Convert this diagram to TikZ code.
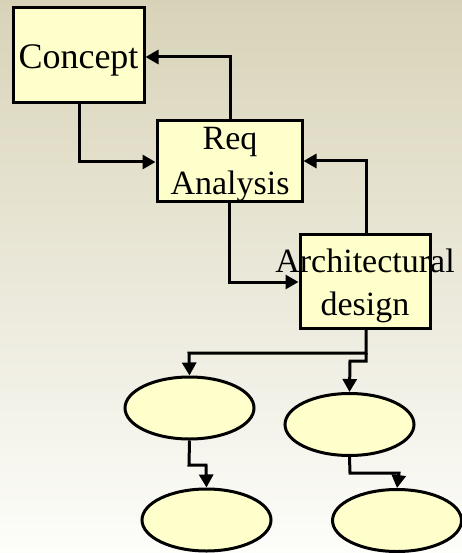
\documentclass[tikz,border=0pt]{standalone}
\usepackage{fontspec}
\setmainfont{Liberation Serif}
\usetikzlibrary{arrows.meta,shapes.geometric}
\definecolor{bgtop}{RGB}{216,211,184}
\definecolor{bgbot}{RGB}{253,253,250}
\definecolor{boxfill}{RGB}{255,255,204}
\tikzset{
  stagebox/.style={draw=black,line width=3pt,fill=boxfill,rectangle,inner sep=0pt},
  taskoval/.style={draw=black,line width=3pt,fill=boxfill,ellipse,inner sep=0pt,
    minimum width=129pt,minimum height=62pt},
  lbl/.style={font=\fontsize{34}{42}\selectfont,align=center,inner sep=0pt},
  flow/.style={draw=black,line width=3pt,-{Triangle[length=13pt,width=14pt]}},
}
\begin{document}
\begin{tikzpicture}[x=1pt,y=-1pt]
\shade[top color=bgtop,bottom color=bgbot] (0,0) rectangle (462,553);
\useasboundingbox (0,0) rectangle (462,553);

% stage boxes
\node[stagebox,minimum width=131pt,minimum height=95pt] (concept) at (78.5,55.5) {};
\node[stagebox,minimum width=145pt,minimum height=80pt] (req) at (229.5,161) {};
\node[stagebox,minimum width=130pt,minimum height=94pt] (arch) at (365,281) {};

% box texts
\node[lbl,font=\fontsize{36}{42}\selectfont,anchor=base] (tconcept) at (78.5,69) {Concept};
\node[lbl,anchor=base] (treq1) at (230,150) {Req};
\node[lbl,anchor=base] (treq2) at (230,194) {Analysis};
\node[lbl,anchor=base] (tarch1) at (365,272) {Architectural};
\node[lbl,anchor=base] (tarch2) at (365,315) {design};

% task ovals
\node[taskoval] (o1) at (189.5,408) {};
\node[taskoval] (o2) at (349.5,424.5) {};
\node[taskoval] (o3) at (206.5,520) {};
\node[taskoval] (o4) at (397,520.5) {};

% corner points of the connectors
\coordinate (c1) at (79,162);
\coordinate (c2) at (229,282);
\coordinate (c3) at (366,353);
\coordinate (c4) at (189,353);
\coordinate (c5) at (366,361);
\coordinate (c6) at (350,361);
\coordinate (c7) at (189,465);
\coordinate (c8) at (206,465);
\coordinate (c9) at (350,473);
\coordinate (c10) at (399,473);

% forward flow
\draw[flow] (concept.south -| c1) -- (c1) -- (c1 -| req.west);
\draw[flow] (req.south -| c2) -- (c2) -- (c2 -| arch.west);
% feedback
\draw[flow] (req.north -| 230,0) -- (230,57) -- (230,57 -| concept.east);
\draw[flow] (arch.north -| 366,0) -- (366,161) -- (366,161 -| req.east);

% branching to tasks
\draw[flow] (arch.south -| c3) -- (c3) -- (c4) -- (o1.north);
\draw[flow] (c3) -- (c5) -- (c6) -- (o2.north);
\draw[flow] (o1.south) -- (c7) -- (c8) -- (o3.north);
\draw[flow] (o2.south) -- (c9) -- (c10) -- (o4.north);
\end{tikzpicture}
\end{document}
